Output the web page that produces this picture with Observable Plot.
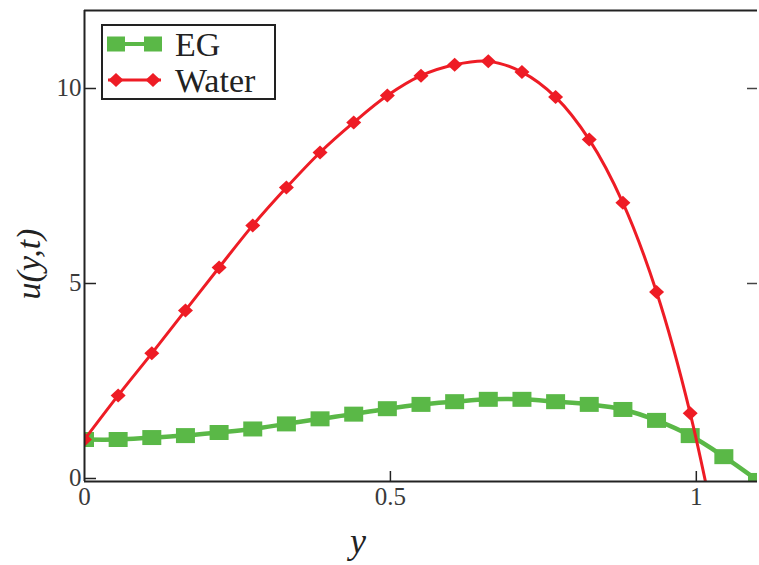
<!DOCTYPE html>
<html><head><meta charset="utf-8">
<script src="https://cdn.jsdelivr.net/npm/d3@7"></script>
<script src="https://cdn.jsdelivr.net/npm/@observablehq/plot@0.6"></script>
<style>body{margin:0;background:#fff} #chart{width:759px;height:565px}
g[aria-label$="tick label"] text{font-size:25px !important;font-family:'Liberation Serif',serif;fill:#3a3a3a}
</style>
</head><body><div id="chart"></div>
<script>
// y-positions (horizontal axis)
const yGrid = [0, 0.055, 0.11, 0.165, 0.22, 0.275, 0.33, 0.385, 0.44, 0.495, 0.55, 0.605, 0.66, 0.715, 0.77, 0.825, 0.88, 0.935, 0.99, 1.045, 1.1];
const egValues = [1.0, 1.0, 1.05, 1.1, 1.18, 1.27, 1.4, 1.53, 1.65, 1.79, 1.9, 1.97, 2.03, 2.03, 1.97, 1.9, 1.77, 1.49, 1.1, 0.56, -0.05];
const waterValues = [1.0, 2.13, 3.21, 4.31, 5.41, 6.49, 7.46, 8.36, 9.13, 9.82, 10.33, 10.61, 10.70, 10.42, 9.78, 8.69, 7.07, 4.78, 1.67, -2.4];
const seriesNames = ["EG", "Water"];
const xTicks = [0, 0.5, 1];
const yTicks = [0, 5, 10];
const xDomain = [0, 1.1];
const yDomain = [-0.077, 12];

const GREEN = "#5ab847", RED = "#ee1c25";
const eg = yGrid.map((x, i) => ({x, v: egValues[i]}));
const water = waterValues.map((v, i) => ({x: yGrid[i], v}));

const squareSym = {draw(ctx) { ctx.rect(-9.5, -7.5, 19, 15); }};
const diamondSym = {draw(ctx) { ctx.moveTo(0, -7); ctx.lineTo(7.5, 0); ctx.lineTo(0, 7); ctx.lineTo(-7.5, 0); ctx.closePath(); }};

const W = 759, H = 565, mL = 84, mR = 2, mT = 10, mB = 84;
const pw = W - mL - mR, ph = H - mT - mB;

const chart = Plot.plot({
  width: W, height: H,
  marginLeft: mL, marginRight: mR, marginTop: mT, marginBottom: mB,
  x: {domain: xDomain},
  y: {domain: yDomain},
  style: {fontFamily: "'Liberation Serif', serif", fontSize: "22px", color: "#333", background: "white"},
  marks: [
    Plot.axisX({ticks: xTicks, tickSize: 0, tickPadding: 6, label: null, fontSize: 25, tickFormat: d => String(d)}),
    Plot.axisY({ticks: yTicks, tickSize: 0, tickPadding: 3, label: null, fontSize: 25}),
    Plot.line(eg, {x: "x", y: "v", stroke: GREEN, strokeWidth: 4.5, curve: "catmull-rom", clip: true}),
    Plot.dot(eg, {x: "x", y: "v", symbol: squareSym, fill: GREEN, stroke: "none", clip: true}),
    Plot.line(water, {x: "x", y: "v", stroke: RED, strokeWidth: 3, curve: "catmull-rom", clip: true}),
    Plot.dot(water, {x: "x", y: "v", symbol: diamondSym, fill: RED, stroke: "none", clip: true}),
    // inward ticks
    Plot.tickX(xTicks.slice(1), {x: d => d, stroke: "#222", strokeWidth: 1.5, insetTop: ph - 10}),
    Plot.tickY(yTicks, {y: d => d, stroke: "#222", strokeWidth: 1.5, insetRight: pw - 12}),
    Plot.tickY(yTicks.slice(1), {y: d => d, stroke: "#444", strokeWidth: 1.5, insetLeft: pw - 10}),
    // frame lines (top, left, bottom)
    Plot.ruleY([yDomain[1]], {stroke: "#222", strokeWidth: 2}),
    Plot.ruleY([yDomain[0]], {stroke: "#222", strokeWidth: 2}),
    Plot.ruleX([xDomain[0]], {stroke: "#222", strokeWidth: 2})
  ]
});
document.getElementById("chart").appendChild(chart);

const svg = d3.select(chart);
// axis titles
svg.append("text").attr("transform", "translate(40,264) rotate(-90)")
  .attr("text-anchor", "middle").attr("font-family", "'Liberation Serif', serif")
  .attr("font-style", "italic").attr("font-size", 34).attr("fill", "#222").text("u(y,t)");
svg.append("text").attr("x", 358).attr("y", 553)
  .attr("text-anchor", "middle").attr("font-family", "'Liberation Serif', serif")
  .attr("font-style", "italic").attr("font-size", 36).attr("fill", "#222").text("y");

// legend
const lg = svg.append("g");
lg.append("rect").attr("x", 102).attr("y", 25).attr("width", 173).attr("height", 74)
  .attr("fill", "white").attr("stroke", "#222").attr("stroke-width", 2);
const rows = [{name: seriesNames[0], color: GREEN, y: 44, sq: true}, {name: seriesNames[1], color: RED, y: 80, sq: false}];
rows.forEach(r => {
  lg.append("line").attr("x1", 108).attr("x2", 161).attr("y1", r.y).attr("y2", r.y)
    .attr("stroke", r.color).attr("stroke-width", r.sq ? 4 : 3);
  [116, 153].forEach(cx => {
    if (r.sq) lg.append("rect").attr("x", cx - 9).attr("y", r.y - 7.5).attr("width", 18).attr("height", 15).attr("fill", r.color);
    else lg.append("path").attr("d", `M${cx},${r.y-7}L${cx+7.5},${r.y}L${cx},${r.y+7}L${cx-7.5},${r.y}Z`).attr("fill", r.color);
  });
  lg.append("text").attr("x", 175).attr("y", r.y).attr("dy", "0.35em").attr("text-anchor", "start")
    .attr("font-family", "'Liberation Serif', serif").attr("font-size", 34).attr("fill", "#222").text(r.name);
});
</script>
</body></html>
